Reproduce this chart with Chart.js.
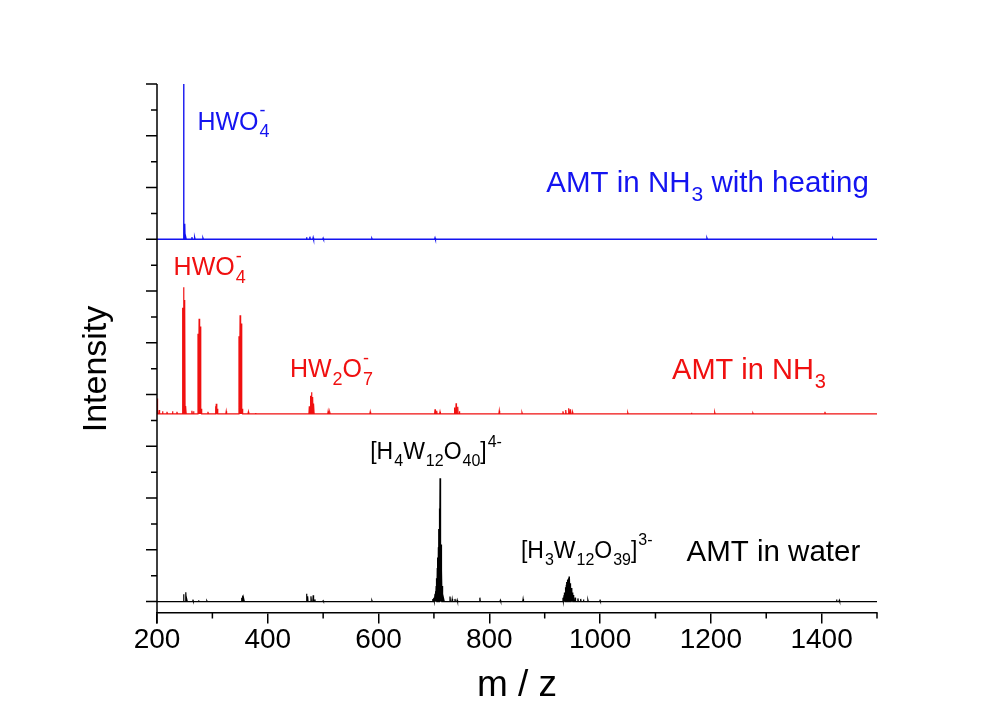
<!DOCTYPE html>
<html>
<head>
<meta charset="utf-8">
<script src="https://cdn.jsdelivr.net/npm/chart.js@4.4.1/dist/chart.umd.min.js"></script>
<style>
  html, body { margin: 0; padding: 0; background: #fff; }
  #wrap { width: 1005px; height: 704px; }
</style>
</head>
<body>
<div id="wrap"><canvas id="msChart" width="1005" height="704"></canvas></div>
<script>
// peaks: m/z and height above each trace's own baseline (y tick units)
var heatMz  = [248, 250, 252, 263, 268, 283, 470, 476, 482, 500, 588, 702, 1193, 1420];
var heatInt = [6.0, 0.6, 0.1, 0.08, 0.06, 0.04, 0.08, 0.1, 0.06, 0.04, 0.03, 0.05, 0.04, 0.03];

var nh3Mz  = [201, 204, 210, 218, 228, 236, 246, 248, 250, 252, 263, 266, 274, 276, 278, 280, 292,
              306, 307, 309, 325, 348, 350, 352, 354, 365, 378, 475, 477, 479, 481, 483, 509, 512,
              585, 702, 705, 711, 737, 740, 743, 746, 818, 859, 933, 938, 943, 946, 950, 1050,
              1165, 1207, 1276, 1406];
var nh3Int = [0.6, 0.15, 0.1, 0.08, 0.1, 0.08, 4.1, 4.9, 4.4, 0.3, 0.12, 0.1, 3.1, 3.68, 3.38, 0.2, 0.08,
              0.3, 0.39, 0.2, 0.1, 3.0, 3.81, 3.49, 0.2, 0.08, 0.04, 0.3, 0.7, 0.84, 0.65, 0.4, 0.1, 0.06,
              0.08, 0.18, 0.12, 0.08, 0.25, 0.41, 0.28, 0.1, 0.12, 0.05, 0.1, 0.15, 0.22, 0.18, 0.08, 0.05,
              0.05, 0.06, 0.03, 0.08];

var waterMz  = [248, 252, 254, 265, 275, 290, 353, 355, 357, 470, 472, 478, 482, 485, 500, 588,
                698, 700, 702, 703, 704, 705, 706, 707, 708, 709, 710, 711, 712, 713, 714, 715, 716, 718,
                729, 733, 738, 742, 783, 820, 861,
                933, 935, 936, 938, 939, 940, 941, 942, 943, 944, 945, 946, 947, 948, 950, 952, 955, 960, 965, 970, 978,
                1000, 1427, 1432];
var waterInt = [0.28, 0.36, 0.1, 0.04, 0.05, 0.03, 0.15, 0.23, 0.1, 0.3, 0.2, 0.2, 0.24, 0.08, 0.03, 0.04,
                0.1, 0.15, 0.3, 0.4, 0.6, 0.9, 1.3, 1.7, 2.1, 2.8, 3.6, 4.76, 3.9, 2.2, 1.2, 0.6, 0.3, 0.1,
                0.19, 0.1, 0.1, 0.06, 0.15, 0.05, 0.1,
                0.15, 0.25, 0.35, 0.55, 0.65, 0.75, 0.8, 0.85, 0.9, 0.97, 0.9, 0.71, 0.6, 0.52, 0.35, 0.25, 0.15, 0.12, 0.1, 0.08, 0.06,
                0.04, 0.08, 0.05];

var xTicks = [200, 400, 600, 800, 1000, 1200, 1400];
var xMinorTicks = [300, 500, 700, 900, 1100, 1300, 1500];
var yTicks = [0, 1, 2, 3, 4, 5, 6, 7, 8, 9, 10, 11, 12, 13, 14, 15, 16, 17, 18, 19, 20];

// vertical offsets of the stacked traces
var baseHeat = 14, baseNh3 = 7.25, baseWater = 0;

var BLUE = '#1414f0', RED = '#f01010', BLACK = '#000000';
var FONT = '"Liberation Sans", Arial, sans-serif';

// peak labels, positioned in data coordinates (m/z, y)
var labels = [
  {parts: [['HWO', 'n'], ['4', 'sub'], ['-', 'sup']], mz: 273, y: 18.24, color: BLUE, size: 25},
  {parts: [['AMT in NH', 'n'], ['3', 'sub'], [' with heating', 'n']], mz: 903, y: 15.83, color: BLUE, size: 29.5},
  {parts: [['HWO', 'n'], ['4', 'sub'], ['-', 'sup']], mz: 230, y: 12.6, color: RED, size: 25},
  {parts: [['HW', 'n'], ['2', 'sub'], ['O', 'n'], ['7', 'sub'], ['-', 'sup']], mz: 440, y: 8.66, color: RED, size: 25},
  {parts: [['AMT in NH', 'n'], ['3', 'sub']], mz: 1130, y: 8.6, color: RED, size: 29},
  {parts: [['[H', 'n'], ['4', 'sub'], ['W', 'n'], ['12', 'sub'], ['O', 'n'], ['40', 'sub'], [']', 'n'], ['4-', 'sup']], mz: 585, y: 5.49, color: BLACK, size: 23},
  {parts: [['[H', 'n'], ['3', 'sub'], ['W', 'n'], ['12', 'sub'], ['O', 'n'], ['39', 'sub'], [']', 'n'], ['3-', 'sup']], mz: 857, y: 1.68, color: BLACK, size: 23},
  {parts: [['AMT in water', 'n']], mz: 1156, y: 1.55, color: BLACK, size: 29.5}
];

function sticks(mz, inten, base) {
  var pts = [{x: 200, y: base}];
  for (var i = 0; i < mz.length; i++) {
    pts.push({x: mz[i] - 0.7, y: base});
    pts.push({x: mz[i], y: base + inten[i]});
    pts.push({x: mz[i] + 0.7, y: base});
  }
  pts.push({x: 1500, y: base});
  return pts;
}

function drawRich(ctx, parts, x, y, size, color) {
  var small = Math.round(size * 0.7);
  var cx = x, lastSubStart = null, lastSubW = 0;
  ctx.fillStyle = color;
  ctx.textBaseline = 'alphabetic';
  ctx.textAlign = 'left';
  parts.forEach(function (p) {
    var txt = p[0], mode = p[1], w;
    if (mode === 'n') {
      ctx.font = size + 'px ' + FONT;
      ctx.fillText(txt, cx, y);
      cx += ctx.measureText(txt).width;
      lastSubStart = null;
    } else if (mode === 'sub') {
      ctx.font = small + 'px ' + FONT;
      ctx.fillText(txt, cx + 1, y + size * 0.3);
      w = ctx.measureText(txt).width + 1;
      lastSubStart = cx; lastSubW = w;
      cx += w;
    } else {
      ctx.font = small + 'px ' + FONT;
      w = ctx.measureText(txt).width + 1;
      if (lastSubStart !== null) {
        // stack over the preceding subscript
        ctx.fillText(txt, lastSubStart + 1, y - size * 0.55);
        cx = lastSubStart + Math.max(lastSubW, w);
      } else {
        ctx.fillText(txt, cx + 1, y - size * 0.55);
        cx += w;
      }
      lastSubStart = null;
    }
  });
}

var framePlugin = {
  id: 'frame',
  afterDraw: function (chart) {
    var ctx = chart.ctx, xs = chart.scales.x, ys = chart.scales.y, area = chart.chartArea;
    ctx.save();
    ctx.strokeStyle = '#000';
    ctx.lineWidth = 1.5;
    // left axis with major/minor ticks
    ctx.beginPath();
    ctx.moveTo(area.left, ys.getPixelForValue(yTicks[yTicks.length - 1]));
    ctx.lineTo(area.left, area.bottom + 11);
    yTicks.forEach(function (v) {
      var py = ys.getPixelForValue(v);
      var len = v % 2 === 0 ? 11 : 6;
      ctx.moveTo(area.left - len, py);
      ctx.lineTo(area.left, py);
    });
    // minor ticks on the bottom axis
    xMinorTicks.forEach(function (v) {
      var px = xs.getPixelForValue(v);
      ctx.moveTo(px, area.bottom);
      ctx.lineTo(px, area.bottom + 6);
    });
    ctx.stroke();

    // y title
    ctx.save();
    ctx.translate(97, 369);
    ctx.rotate(-Math.PI / 2);
    ctx.fillStyle = '#000';
    ctx.font = '34px ' + FONT;
    ctx.textAlign = 'center';
    ctx.textBaseline = 'middle';
    ctx.fillText('Intensity', 0, 0);
    ctx.restore();

    labels.forEach(function (l) {
      drawRich(ctx, l.parts, xs.getPixelForValue(l.mz), ys.getPixelForValue(l.y), l.size, l.color);
    });
    ctx.restore();
  }
};

var ctx = document.getElementById('msChart').getContext('2d');
var msChart = new Chart(ctx, {
  type: 'line',
  data: {
    datasets: [
      {
        label: 'AMT in water',
        data: sticks(waterMz, waterInt, baseWater),
        borderColor: BLACK,
        backgroundColor: BLACK,
        fill: {value: baseWater},
        borderWidth: 1.2
      },
      {
        label: 'AMT in NH3',
        data: sticks(nh3Mz, nh3Int, baseNh3),
        borderColor: RED,
        backgroundColor: RED,
        fill: {value: baseNh3},
        borderWidth: 1.2
      },
      {
        label: 'AMT in NH3 with heating',
        data: sticks(heatMz, heatInt, baseHeat),
        borderColor: BLUE,
        backgroundColor: BLUE,
        fill: {value: baseHeat},
        borderWidth: 1.4
      }
    ]
  },
  options: {
    responsive: false,
    animation: false,
    devicePixelRatio: 1,
    elements: {point: {radius: 0}, line: {tension: 0}},
    layout: {padding: {left: 157, right: 128, top: 84, bottom: 0}},
    plugins: {legend: {display: false}, tooltip: {enabled: false}},
    scales: {
      x: {
        type: 'linear',
        min: 200,
        max: 1500,
        afterBuildTicks: function (axis) {
          axis.ticks = xTicks.map(function (v) { return {value: v}; });
        },
        grid: {drawOnChartArea: false, drawTicks: true, tickLength: 11, color: '#000', lineWidth: 1.5},
        border: {display: true, color: '#000', width: 1.5},
        ticks: {
          padding: 0,
          color: '#000',
          maxRotation: 0,
          font: {family: FONT, size: 28},
          callback: function (v) { return String(v); }
        },
        title: {
          display: true,
          text: 'm / z',
          color: '#000',
          padding: {top: 10, bottom: 0},
          font: {family: FONT, size: 37, lineHeight: 1}
        }
      },
      y: {
        type: 'linear',
        display: false,
        min: -0.42,
        max: 20
      }
    }
  },
  plugins: [framePlugin]
});
</script>
</body>
</html>
